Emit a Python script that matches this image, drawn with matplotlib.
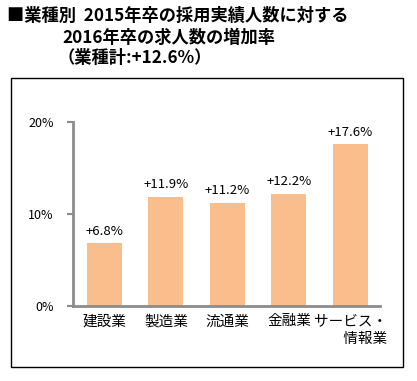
import matplotlib.pyplot as plt
from matplotlib.patches import Rectangle

plt.rcParams['font.family'] = ['Noto Sans CJK JP', 'DejaVu Sans']

# 業種別 増加率 (%)
categories = ['建設業', '製造業', '流通業', '金融業', 'サービス・\n　　情報業']
rates = [6.8, 11.9, 11.2, 12.2, 17.6]
rate_labels = ['+6.8%', '+11.9%', '+11.2%', '+12.2%', '+17.6%']
yticks = [0, 10, 20]
ytick_labels = ['0%', '10%', '20%']

W, H = 417, 381
fig = plt.figure(figsize=(W / 100, H / 100), dpi=100)

# frame around the chart
fig.patches.append(Rectangle((11 / W, 1 - 367 / H), 392 / W, 289 / H,
                             transform=fig.transFigure, fill=False,
                             edgecolor='black', linewidth=1.0))

# title lines
fig.text(7 / W, 1 - 16 / H, '■業種別  2015年卒の採用実績人数に対する',
         fontsize=12.4, fontweight='bold', va='center', ha='left')
fig.text(62 / W, 1 - 38 / H, '2016年卒の求人数の増加率',
         fontsize=12.4, fontweight='bold', va='center', ha='left')
fig.text(58 / W, 1 - 58 / H, '（業種計:+12.6%）',
         fontsize=12.4, fontweight='bold', va='center', ha='left')

ax = fig.add_axes([73 / W, 1 - 306 / H, 307 / W, 184 / H])
x = range(len(categories))
bars = ax.bar(x, rates, width=0.57, color='#F9BE8C')

for b, lab in zip(bars, rate_labels):
    ax.annotate(lab, (b.get_x() + b.get_width() / 2, b.get_height()),
                xytext=(0, 4), textcoords='offset points',
                ha='center', va='bottom', fontsize=9.5, annotation_clip=False)

ax.set_xlim(-0.51, 4.48)
ax.set_ylim(0, 20)
ax.set_yticks(yticks)
ax.set_yticklabels(ytick_labels, fontsize=9)
ax.set_xticks(list(x))
ax.set_xticklabels(categories, fontsize=10.5, linespacing=1.35)
ax.tick_params(axis='x', length=0, pad=6)
ax.tick_params(axis='y', length=4, width=1.5, color='#8c8c8c', pad=10)
for side in ['top', 'right']:
    ax.spines[side].set_visible(False)
for side in ['left', 'bottom']:
    ax.spines[side].set_color('#8c8c8c')
    ax.spines[side].set_linewidth(2)

fig.savefig('out.png', dpi=100)
